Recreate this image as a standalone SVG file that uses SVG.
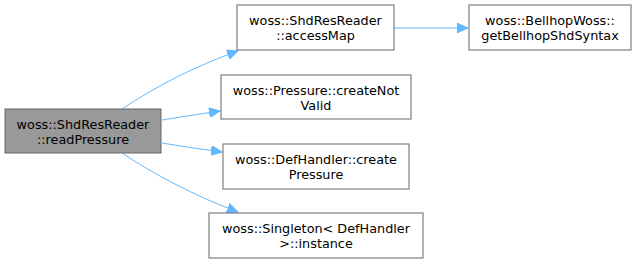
<svg xmlns="http://www.w3.org/2000/svg" width="636" height="263" viewBox="0 0 636 263">
<defs>
<style>
.box{fill:#ffffff;stroke:#666666;stroke-width:1}
.main{fill:#999999;stroke:#666666;stroke-width:1}
text{font-family:"DejaVu Sans",sans-serif;font-size:12.8px;fill:#000000;text-anchor:middle}
.edge{fill:none;stroke:#63b8ff;stroke-width:1}
</style>
<marker id="ah" markerWidth="12" markerHeight="10" refX="11" refY="5" orient="auto" markerUnits="userSpaceOnUse">
<path d="M0,0 L11,5 L0,10 Z" fill="#63b8ff" stroke="#63b8ff"/>
</marker>
</defs>
<rect width="636" height="263" fill="#ffffff"/>
<g id="connectors">
<path class="edge" marker-end="url(#ah)" d="M122,109 C155,87 195,66 238,51"/>
<path class="edge" marker-end="url(#ah)" d="M162,120 C180,117 200,114 220,111"/>
<path class="edge" marker-end="url(#ah)" d="M162,143 C180,146 200,149 222,152"/>
<path class="edge" marker-end="url(#ah)" d="M122,153 C155,175 195,196 238,212"/>
<path class="edge" marker-end="url(#ah)" d="M394,28 L468,28"/>
</g>
<g id="readPressure">
<rect class="main" x="5" y="109" width="156" height="44"/>
<text x="83" y="129">woss::ShdResReader</text>
<text x="83" y="143.5">::readPressure</text>
</g>
<g id="accessMap">
<rect class="box" x="237" y="5" width="157" height="45"/>
<text x="315.5" y="25">woss::ShdResReader</text>
<text x="315.5" y="39.5">::accessMap</text>
</g>
<g id="getBellhopShdSyntax">
<rect class="box" x="469" y="5" width="162" height="45"/>
<text x="550" y="25">woss::BellhopWoss::</text>
<text x="550" y="39.5">getBellhopShdSyntax</text>
</g>
<g id="createNotValid">
<rect class="box" x="221" y="75" width="190" height="44"/>
<text x="316" y="95">woss::Pressure::createNot</text>
<text x="316" y="109.5">Valid</text>
</g>
<g id="createPressure">
<rect class="box" x="223" y="144" width="186" height="45"/>
<text x="316" y="164">woss::DefHandler::create</text>
<text x="316" y="178.5">Pressure</text>
</g>
<g id="instance">
<rect class="box" x="209" y="213" width="214" height="45"/>
<text x="316" y="233">woss::Singleton&lt; DefHandler</text>
<text x="316" y="247.5">&gt;::instance</text>
</g>
</svg>
